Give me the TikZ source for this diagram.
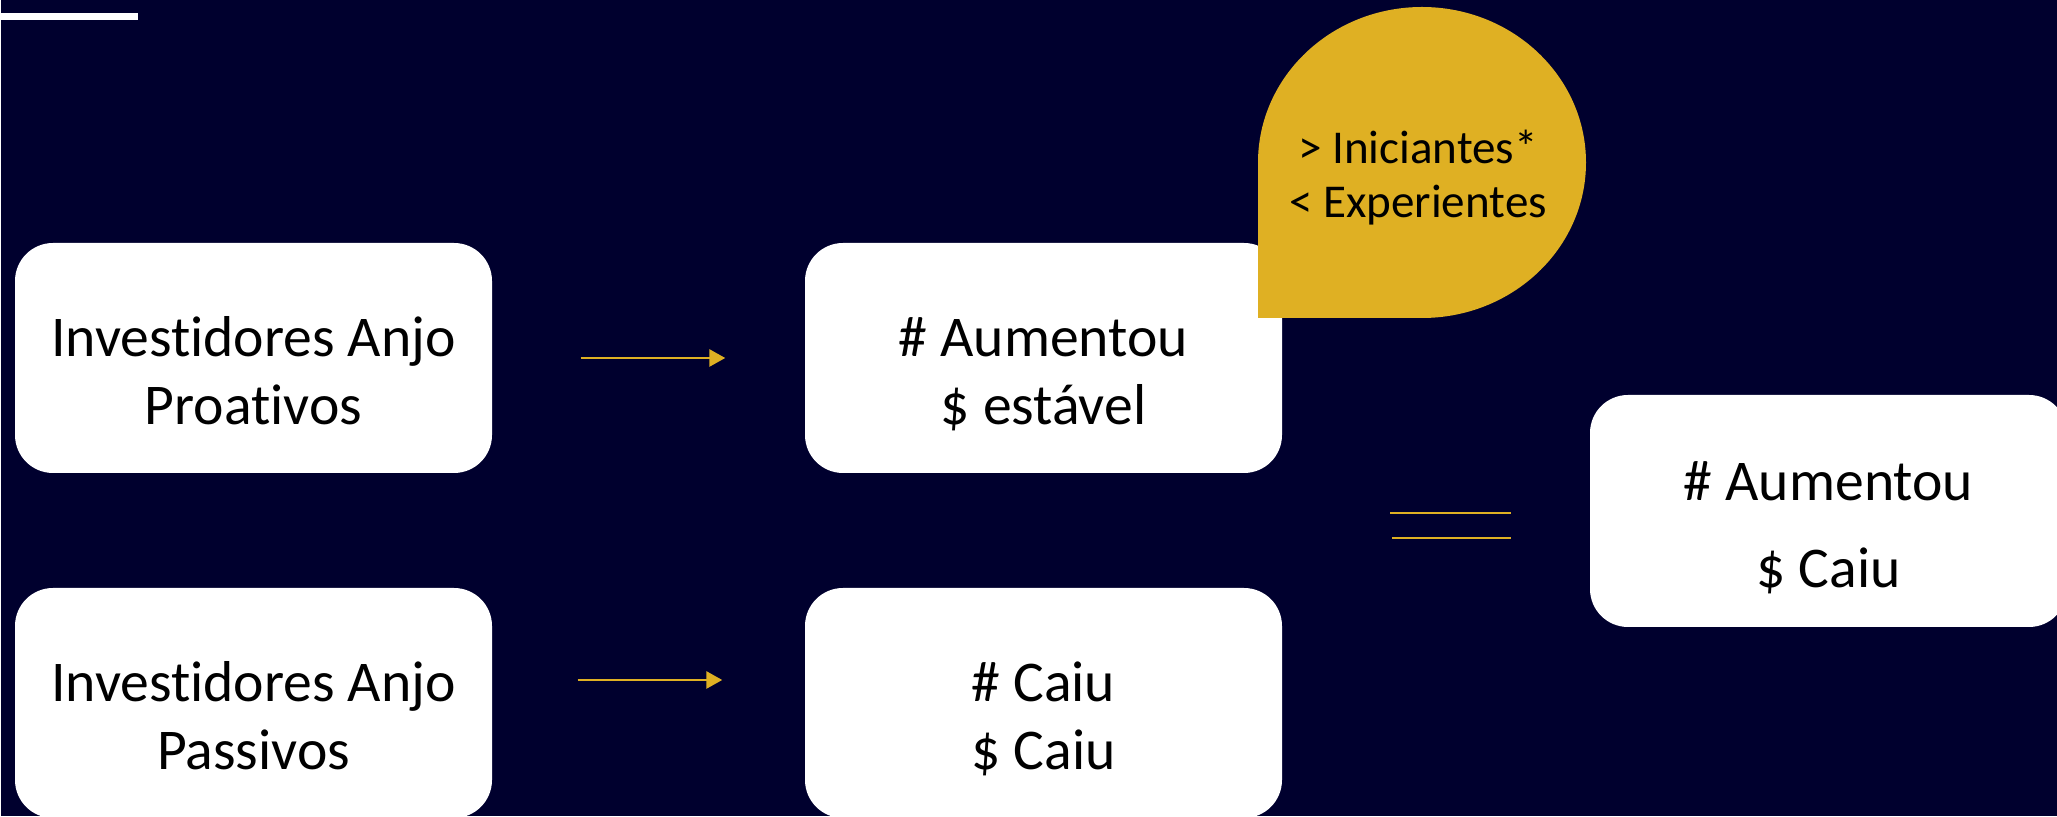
\documentclass[tikz,border=0pt]{standalone}
\usepackage{fontspec}
\setmainfont{Carlito}[Ligatures=NoCommon]
\usetikzlibrary{
    arrows.meta,
    calc
}
\definecolor{bgNavy}{RGB}{0, 0, 46}
\definecolor{boxWhite}{RGB}{255, 255, 255}
\definecolor{textBlack}{RGB}{0, 0, 0}
\definecolor{accentGold}{RGB}{223, 176, 35}
\def\slideW{20.57}
\def\slideH{8.17}
\def\lineTop{\rule{0pt}{0.86cm}}
\def\lineBot{\rule[-0.2cm]{0pt}{0.2cm}}
\tikzset{
    slide/.style={
        rectangle,
        fill=bgNavy,
        draw=none,
        minimum width=\slideW cm,
        minimum height=\slideH cm,
        anchor=south west,
        inner sep=0pt
    },
    investorBox/.style={
        rectangle,
        rounded corners=0.38cm,
        minimum width=4.77cm,
        minimum height=2.30cm,
        fill=boxWhite,
        draw=none,
        text=textBlack,
        align=center,
        font=\fontsize{16.4pt}{19.35pt}\selectfont
    },
    resultBox/.style={
        investorBox,
        minimum height=2.32cm,
        font=\fontsize{16.4pt}{25pt}\selectfont
    },
    noteText/.style={
        text=textBlack,
        align=center,
        font=\fontsize{13.4pt}{15.6pt}\selectfont
    },
    connector/.style={
        draw=accentGold,
        line width=0.8pt,
        -{Triangle[length=0.16cm, width=0.17cm]}
    },
    eqLine/.style={
        draw=accentGold,
        line width=0.45pt
    }
}

\begin{document}
\begin{tikzpicture}
    \useasboundingbox (0,0) rectangle (\slideW, \slideH);
    \node[slide] (bg) at (0,0) {};
    \fill[boxWhite] (0, 7.97) rectangle (1.38, 8.043);

    % Left column: investor groups
    \node[investorBox] (pro) at (2.535, 4.59) {\lineTop Investidores Anjo\\Proativos\lineBot};
    \node[investorBox] (pas) at (2.535, 1.14) {\lineTop Investidores Anjo\\Passivos\lineBot};

    % Middle column: what changed
    \node[investorBox] (up) at (10.435, 4.59) {\lineTop \# Aumentou\\\$ estável\lineBot};
    \node[investorBox] (down) at (10.435, 1.14) {\lineTop \# Caiu\\\$ Caiu\lineBot};

    % Speech bubble over the top box
    \fill[accentGold] (12.58, 4.99) -- (12.58, 6.545)
        arc[start angle=180, end angle=0, x radius=1.64cm, y radius=1.555cm]
        arc[start angle=0, end angle=-90, x radius=1.64cm, y radius=1.555cm] -- cycle;
    \node[noteText] (note) at (14.18, 6.595) {\lineTop > Iniciantes*\\< Experientes\lineBot};

    % Result
    \node[resultBox] (res) at (18.285, 3.06) {\lineTop \# Aumentou\\\$ Caiu\lineBot};

    % Arrows
    \draw[connector, shorten <=0.88cm, shorten >=0.79cm] (pro.east) -- (up.west);
    \draw[connector, shorten <=0.85cm, shorten >=0.82cm] ([yshift=0.23cm]pas.east) -- ([yshift=0.23cm]down.west);

    % Equals sign
    \draw[eqLine] ([shift={(-1.99,-0.02)}]res.west) -- ++(1.21,0);
    \draw[eqLine] ([shift={(-1.97,-0.27)}]res.west) -- ++(1.19,0);
\end{tikzpicture}
\end{document}
